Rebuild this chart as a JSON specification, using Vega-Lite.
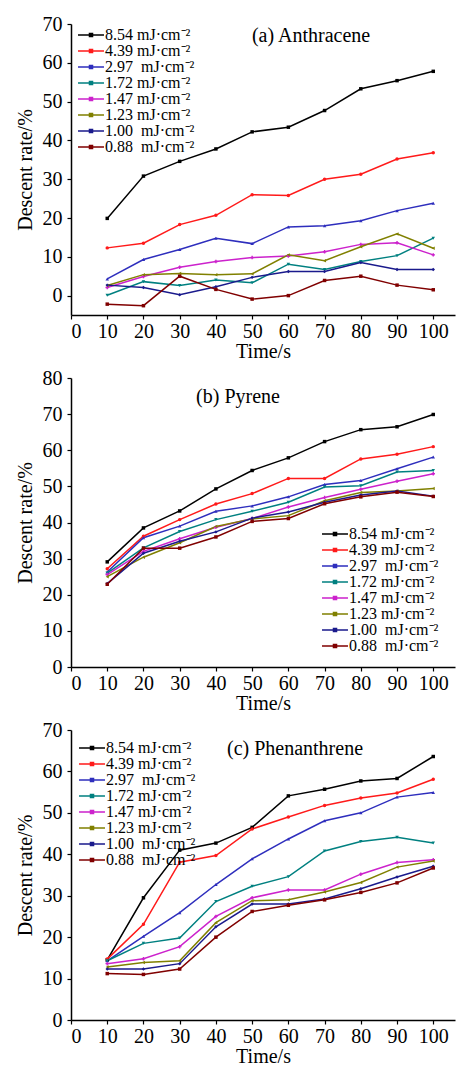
{
  "$schema": "https://vega.github.io/schema/vega-lite/v6.json",
  "padding": {"left": 15, "top": 14, "right": 1, "bottom": 0},
  "background": "white",
  "spacing": 7,
  "config": {
    "view": {"stroke": null},
    "font": "Liberation Serif",
    "axis": {"grid": false, "domainColor": "black", "domainWidth": 1.5, "tickColor": "black", "tickWidth": 1.2, "tickSize": 4, "labelFont": "Liberation Serif", "labelFontSize": 20, "labelColor": "black", "titleFont": "Liberation Serif", "titleFontSize": 20, "titleFontWeight": "normal", "titleColor": "black"},
    "axisX": {"labelPadding": 2, "titlePadding": 0, "labelAngle": 0},
    "axisY": {"labelPadding": 5, "titlePadding": 7},
    "legend": {"labelFont": "Liberation Serif", "labelFontSize": 16, "labelColor": "black", "padding": 0, "rowPadding": 0, "labelOffset": 6, "symbolSize": 75, "symbolStrokeWidth": 1.5, "title": null},
    "title": {"font": "Liberation Serif", "fontSize": 20, "fontWeight": "normal", "color": "black", "anchor": "middle", "frame": "group", "baseline": "bottom", "offset": 0}
  },
  "datasets": {
    "a": [
      {"t":10,"s":"8.54","v":19.9},{"t":20,"s":"8.54","v":30.8},{"t":30,"s":"8.54","v":34.6},{"t":40,"s":"8.54","v":37.8},{"t":50,"s":"8.54","v":42.2},{"t":60,"s":"8.54","v":43.4},{"t":70,"s":"8.54","v":47.7},{"t":80,"s":"8.54","v":53.3},{"t":90,"s":"8.54","v":55.4},{"t":100,"s":"8.54","v":57.8},
      {"t":10,"s":"4.39","v":12.3},{"t":20,"s":"4.39","v":13.5},{"t":30,"s":"4.39","v":18.3},{"t":40,"s":"4.39","v":20.7},{"t":50,"s":"4.39","v":26.0},{"t":60,"s":"4.39","v":25.8},{"t":70,"s":"4.39","v":30.0},{"t":80,"s":"4.39","v":31.3},{"t":90,"s":"4.39","v":35.2},{"t":100,"s":"4.39","v":36.8},
      {"t":10,"s":"2.97","v":4.3},{"t":20,"s":"2.97","v":9.3},{"t":30,"s":"2.97","v":11.9},{"t":40,"s":"2.97","v":14.8},{"t":50,"s":"2.97","v":13.4},{"t":60,"s":"2.97","v":17.7},{"t":70,"s":"2.97","v":18.0},{"t":80,"s":"2.97","v":19.3},{"t":90,"s":"2.97","v":21.9},{"t":100,"s":"2.97","v":23.8},
      {"t":10,"s":"1.72","v":0.1},{"t":20,"s":"1.72","v":3.6},{"t":30,"s":"1.72","v":2.6},{"t":40,"s":"1.72","v":4.0},{"t":50,"s":"1.72","v":3.3},{"t":60,"s":"1.72","v":8.1},{"t":70,"s":"1.72","v":6.7},{"t":80,"s":"1.72","v":8.8},{"t":90,"s":"1.72","v":10.3},{"t":100,"s":"1.72","v":14.8},
      {"t":10,"s":"1.47","v":2.1},{"t":20,"s":"1.47","v":4.9},{"t":30,"s":"1.47","v":7.3},{"t":40,"s":"1.47","v":8.8},{"t":50,"s":"1.47","v":9.8},{"t":60,"s":"1.47","v":10.2},{"t":70,"s":"1.47","v":11.3},{"t":80,"s":"1.47","v":13.2},{"t":90,"s":"1.47","v":13.6},{"t":100,"s":"1.47","v":10.5},
      {"t":10,"s":"1.23","v":2.6},{"t":20,"s":"1.23","v":5.4},{"t":30,"s":"1.23","v":5.7},{"t":40,"s":"1.23","v":5.4},{"t":50,"s":"1.23","v":5.6},{"t":60,"s":"1.23","v":10.5},{"t":70,"s":"1.23","v":9.0},{"t":80,"s":"1.23","v":12.6},{"t":90,"s":"1.23","v":15.9},{"t":100,"s":"1.23","v":12.2},
      {"t":10,"s":"1.00","v":2.7},{"t":20,"s":"1.00","v":2.1},{"t":30,"s":"1.00","v":0.2},{"t":40,"s":"1.00","v":2.3},{"t":50,"s":"1.00","v":4.7},{"t":60,"s":"1.00","v":6.2},{"t":70,"s":"1.00","v":6.2},{"t":80,"s":"1.00","v":8.5},{"t":90,"s":"1.00","v":6.7},{"t":100,"s":"1.00","v":6.7},
      {"t":10,"s":"0.88","v":-2.2},{"t":20,"s":"0.88","v":-2.6},{"t":30,"s":"0.88","v":5.0},{"t":40,"s":"0.88","v":1.6},{"t":50,"s":"0.88","v":-0.9},{"t":60,"s":"0.88","v":0.0},{"t":70,"s":"0.88","v":3.9},{"t":80,"s":"0.88","v":5.0},{"t":90,"s":"0.88","v":2.7},{"t":100,"s":"0.88","v":1.5}
    ],
    "b": [
      {"t":10,"s":"8.54","v":29.1},{"t":20,"s":"8.54","v":38.5},{"t":30,"s":"8.54","v":43.2},{"t":40,"s":"8.54","v":49.3},{"t":50,"s":"8.54","v":54.4},{"t":60,"s":"8.54","v":57.9},{"t":70,"s":"8.54","v":62.4},{"t":80,"s":"8.54","v":65.7},{"t":90,"s":"8.54","v":66.5},{"t":100,"s":"8.54","v":69.9},
      {"t":10,"s":"4.39","v":27.2},{"t":20,"s":"4.39","v":36.2},{"t":30,"s":"4.39","v":40.8},{"t":40,"s":"4.39","v":45.1},{"t":50,"s":"4.39","v":48.0},{"t":60,"s":"4.39","v":52.2},{"t":70,"s":"4.39","v":52.2},{"t":80,"s":"4.39","v":57.6},{"t":90,"s":"4.39","v":58.9},{"t":100,"s":"4.39","v":61.0},
      {"t":10,"s":"2.97","v":26.3},{"t":20,"s":"2.97","v":35.8},{"t":30,"s":"2.97","v":39.0},{"t":40,"s":"2.97","v":43.1},{"t":50,"s":"2.97","v":44.6},{"t":60,"s":"2.97","v":47.1},{"t":70,"s":"2.97","v":50.5},{"t":80,"s":"2.97","v":51.6},{"t":90,"s":"2.97","v":54.9},{"t":100,"s":"2.97","v":58.1},
      {"t":10,"s":"1.72","v":26.0},{"t":20,"s":"1.72","v":33.0},{"t":30,"s":"1.72","v":37.5},{"t":40,"s":"1.72","v":40.8},{"t":50,"s":"1.72","v":43.1},{"t":60,"s":"1.72","v":45.6},{"t":70,"s":"1.72","v":49.8},{"t":80,"s":"1.72","v":50.2},{"t":90,"s":"1.72","v":54.0},{"t":100,"s":"1.72","v":54.4},
      {"t":10,"s":"1.47","v":25.6},{"t":20,"s":"1.47","v":32.0},{"t":30,"s":"1.47","v":35.5},{"t":40,"s":"1.47","v":38.7},{"t":50,"s":"1.47","v":41.1},{"t":60,"s":"1.47","v":44.3},{"t":70,"s":"1.47","v":46.9},{"t":80,"s":"1.47","v":49.2},{"t":90,"s":"1.47","v":51.4},{"t":100,"s":"1.47","v":53.5},
      {"t":10,"s":"1.23","v":25.0},{"t":20,"s":"1.23","v":30.4},{"t":30,"s":"1.23","v":34.4},{"t":40,"s":"1.23","v":38.9},{"t":50,"s":"1.23","v":41.0},{"t":60,"s":"1.23","v":41.9},{"t":70,"s":"1.23","v":46.0},{"t":80,"s":"1.23","v":48.3},{"t":90,"s":"1.23","v":48.7},{"t":100,"s":"1.23","v":49.4},
      {"t":10,"s":"1.00","v":23.1},{"t":20,"s":"1.00","v":31.5},{"t":30,"s":"1.00","v":34.8},{"t":40,"s":"1.00","v":37.4},{"t":50,"s":"1.00","v":41.2},{"t":60,"s":"1.00","v":42.9},{"t":70,"s":"1.00","v":45.6},{"t":80,"s":"1.00","v":47.6},{"t":90,"s":"1.00","v":48.7},{"t":100,"s":"1.00","v":47.3},
      {"t":10,"s":"0.88","v":22.9},{"t":20,"s":"0.88","v":32.9},{"t":30,"s":"0.88","v":32.9},{"t":40,"s":"0.88","v":36.0},{"t":50,"s":"0.88","v":40.3},{"t":60,"s":"0.88","v":41.1},{"t":70,"s":"0.88","v":45.2},{"t":80,"s":"0.88","v":47.1},{"t":90,"s":"0.88","v":48.4},{"t":100,"s":"0.88","v":47.2}
    ],
    "c": [
      {"t":10,"s":"8.54","v":14.5},{"t":20,"s":"8.54","v":29.5},{"t":30,"s":"8.54","v":41.0},{"t":40,"s":"8.54","v":42.7},{"t":50,"s":"8.54","v":46.5},{"t":60,"s":"8.54","v":54.1},{"t":70,"s":"8.54","v":55.7},{"t":80,"s":"8.54","v":57.7},{"t":90,"s":"8.54","v":58.3},{"t":100,"s":"8.54","v":63.6},
      {"t":10,"s":"4.39","v":14.7},{"t":20,"s":"4.39","v":23.1},{"t":30,"s":"4.39","v":38.1},{"t":40,"s":"4.39","v":39.7},{"t":50,"s":"4.39","v":46.1},{"t":60,"s":"4.39","v":49.0},{"t":70,"s":"4.39","v":51.8},{"t":80,"s":"4.39","v":53.6},{"t":90,"s":"4.39","v":54.8},{"t":100,"s":"4.39","v":58.1},
      {"t":10,"s":"2.97","v":14.3},{"t":20,"s":"2.97","v":20.2},{"t":30,"s":"2.97","v":25.9},{"t":40,"s":"2.97","v":32.7},{"t":50,"s":"2.97","v":38.9},{"t":60,"s":"2.97","v":43.7},{"t":70,"s":"2.97","v":48.1},{"t":80,"s":"2.97","v":50.0},{"t":90,"s":"2.97","v":53.8},{"t":100,"s":"2.97","v":54.9},
      {"t":10,"s":"1.72","v":14.3},{"t":20,"s":"1.72","v":18.5},{"t":30,"s":"1.72","v":19.8},{"t":40,"s":"1.72","v":28.6},{"t":50,"s":"1.72","v":32.3},{"t":60,"s":"1.72","v":34.6},{"t":70,"s":"1.72","v":40.8},{"t":80,"s":"1.72","v":43.1},{"t":90,"s":"1.72","v":44.1},{"t":100,"s":"1.72","v":42.7},
      {"t":10,"s":"1.47","v":13.6},{"t":20,"s":"1.47","v":14.8},{"t":30,"s":"1.47","v":17.7},{"t":40,"s":"1.47","v":25.0},{"t":50,"s":"1.47","v":29.5},{"t":60,"s":"1.47","v":31.4},{"t":70,"s":"1.47","v":31.4},{"t":80,"s":"1.47","v":35.2},{"t":90,"s":"1.47","v":38.0},{"t":100,"s":"1.47","v":38.7},
      {"t":10,"s":"1.23","v":12.8},{"t":20,"s":"1.23","v":13.9},{"t":30,"s":"1.23","v":14.3},{"t":40,"s":"1.23","v":23.5},{"t":50,"s":"1.23","v":28.8},{"t":60,"s":"1.23","v":29.0},{"t":70,"s":"1.23","v":30.9},{"t":80,"s":"1.23","v":33.2},{"t":90,"s":"1.23","v":36.9},{"t":100,"s":"1.23","v":38.4},
      {"t":10,"s":"1.00","v":12.3},{"t":20,"s":"1.00","v":12.3},{"t":30,"s":"1.00","v":13.6},{"t":40,"s":"1.00","v":22.5},{"t":50,"s":"1.00","v":28.0},{"t":60,"s":"1.00","v":28.0},{"t":70,"s":"1.00","v":29.2},{"t":80,"s":"1.00","v":31.7},{"t":90,"s":"1.00","v":34.5},{"t":100,"s":"1.00","v":37.1},
      {"t":10,"s":"0.88","v":11.2},{"t":20,"s":"0.88","v":11.0},{"t":30,"s":"0.88","v":12.3},{"t":40,"s":"0.88","v":20.0},{"t":50,"s":"0.88","v":26.2},{"t":60,"s":"0.88","v":27.7},{"t":70,"s":"0.88","v":29.0},{"t":80,"s":"0.88","v":30.8},{"t":90,"s":"0.88","v":33.1},{"t":100,"s":"0.88","v":36.7}
    ]
  },
  "resolve": {"scale": {"color": "independent", "x": "independent", "y": "independent"}, "legend": {"color": "independent"}},
  "vconcat": [
    {
      "name": "pa",
      "width": 384, "height": 291,
      "data": {"name": "a"},
      "title": {"text": "(a) Anthracene", "dx": 48, "dy": 36},
      "encoding": {
        "x": {"field": "t", "type": "quantitative", "scale": {"domain": [0, 106], "nice": false}, "axis": {"values": [0,10,20,30,40,50,60,70,80,90,100], "title": "Time/s"}},
        "y": {"field": "v", "type": "quantitative", "scale": {"domain": [-5, 70], "nice": false, "zero": false}, "axis": {"values": [0,10,20,30,40,50,60,70], "title": "Descent rate/%"}}
      },
      "layer": [
        {"mark": {"type": "line", "strokeWidth": 1.5},
         "encoding": {"color": {"field": "s", "type": "nominal", "scale": {"domain": ["8.54","4.39","2.97","1.72","1.47","1.23","1.00","0.88"], "range": ["#000000","#ff1a1a","#2e2ebd","#008080","#cc22cc","#808000","#1a1a8c","#800000"]},
           "legend": {"orient": "none", "legendX": 12, "legendY": 3, "symbolType": "M-3,0H3M-0.35,-0.35H0.35V0.35H-0.35Z", "labelExpr": "datum.label + (indexof(['2.97','1.00','0.88'], datum.label) >= 0 ? '\u00a0 ' : ' ') + 'mJ·cm⁻²'"}}}},
        {"mark": {"type": "point", "filled": true, "size": 12, "opacity": 1},
         "encoding": {"fill": {"field": "s", "type": "nominal", "legend": null, "scale": {"domain": ["8.54","4.39","2.97","1.72","1.47","1.23","1.00","0.88"], "range": ["#000000","#ff1a1a","#2e2ebd","#008080","#cc22cc","#808000","#1a1a8c","#800000"]}},
           "shape": {"field": "s", "type": "nominal", "legend": null, "scale": {"domain": ["8.54","4.39","2.97","1.72","1.47","1.23","1.00","0.88"], "range": ["square","circle","triangle-up","triangle-down","cross","triangle-left","diamond","square"]}}}}
      ]
    },
    {
      "name": "pb",
      "width": 384, "height": 289,
      "data": {"name": "b"},
      "title": {"text": "(b) Pyrene", "dx": -25, "dy": 43},
      "encoding": {
        "x": {"field": "t", "type": "quantitative", "scale": {"domain": [0, 106], "nice": false}, "axis": {"values": [0,10,20,30,40,50,60,70,80,90,100], "title": "Time/s"}},
        "y": {"field": "v", "type": "quantitative", "scale": {"domain": [0, 80], "nice": false}, "axis": {"values": [0,10,20,30,40,50,60,70,80], "title": "Descent rate/%"}}
      },
      "layer": [
        {"mark": {"type": "line", "strokeWidth": 1.5},
         "encoding": {"color": {"field": "s", "type": "nominal", "scale": {"domain": ["8.54","4.39","2.97","1.72","1.47","1.23","1.00","0.88"], "range": ["#000000","#ff1a1a","#2e2ebd","#008080","#cc22cc","#808000","#1a1a8c","#800000"]},
           "legend": {"orient": "none", "legendX": 256, "legendY": 148, "symbolType": "M-3,0H3M-0.35,-0.35H0.35V0.35H-0.35Z", "labelExpr": "datum.label + (indexof(['2.97','1.00','0.88'], datum.label) >= 0 ? '\u00a0 ' : ' ') + 'mJ·cm⁻²'"}}}},
        {"mark": {"type": "point", "filled": true, "size": 12, "opacity": 1},
         "encoding": {"fill": {"field": "s", "type": "nominal", "legend": null, "scale": {"domain": ["8.54","4.39","2.97","1.72","1.47","1.23","1.00","0.88"], "range": ["#000000","#ff1a1a","#2e2ebd","#008080","#cc22cc","#808000","#1a1a8c","#800000"]}},
           "shape": {"field": "s", "type": "nominal", "legend": null, "scale": {"domain": ["8.54","4.39","2.97","1.72","1.47","1.23","1.00","0.88"], "range": ["square","circle","triangle-up","triangle-down","cross","triangle-left","diamond","square"]}}}}
      ]
    },
    {
      "name": "pc",
      "width": 384, "height": 290,
      "data": {"name": "c"},
      "title": {"text": "(c) Phenanthrene", "dx": 32, "dy": 43},
      "encoding": {
        "x": {"field": "t", "type": "quantitative", "scale": {"domain": [0, 106], "nice": false}, "axis": {"values": [0,10,20,30,40,50,60,70,80,90,100], "title": "Time/s"}},
        "y": {"field": "v", "type": "quantitative", "scale": {"domain": [0, 70], "nice": false}, "axis": {"values": [0,10,20,30,40,50,60,70], "title": "Descent rate/%"}}
      },
      "layer": [
        {"mark": {"type": "line", "strokeWidth": 1.5},
         "encoding": {"color": {"field": "s", "type": "nominal", "scale": {"domain": ["8.54","4.39","2.97","1.72","1.47","1.23","1.00","0.88"], "range": ["#000000","#ff1a1a","#2e2ebd","#008080","#cc22cc","#808000","#1a1a8c","#800000"]},
           "legend": {"orient": "none", "legendX": 13, "legendY": 10, "symbolType": "M-3,0H3M-0.35,-0.35H0.35V0.35H-0.35Z", "labelExpr": "datum.label + (indexof(['2.97','1.00','0.88'], datum.label) >= 0 ? '\u00a0 ' : ' ') + 'mJ·cm⁻²'"}}}},
        {"mark": {"type": "point", "filled": true, "size": 12, "opacity": 1},
         "encoding": {"fill": {"field": "s", "type": "nominal", "legend": null, "scale": {"domain": ["8.54","4.39","2.97","1.72","1.47","1.23","1.00","0.88"], "range": ["#000000","#ff1a1a","#2e2ebd","#008080","#cc22cc","#808000","#1a1a8c","#800000"]}},
           "shape": {"field": "s", "type": "nominal", "legend": null, "scale": {"domain": ["8.54","4.39","2.97","1.72","1.47","1.23","1.00","0.88"], "range": ["square","circle","triangle-up","triangle-down","cross","triangle-left","diamond","square"]}}}}
      ]
    }
  ]
}
